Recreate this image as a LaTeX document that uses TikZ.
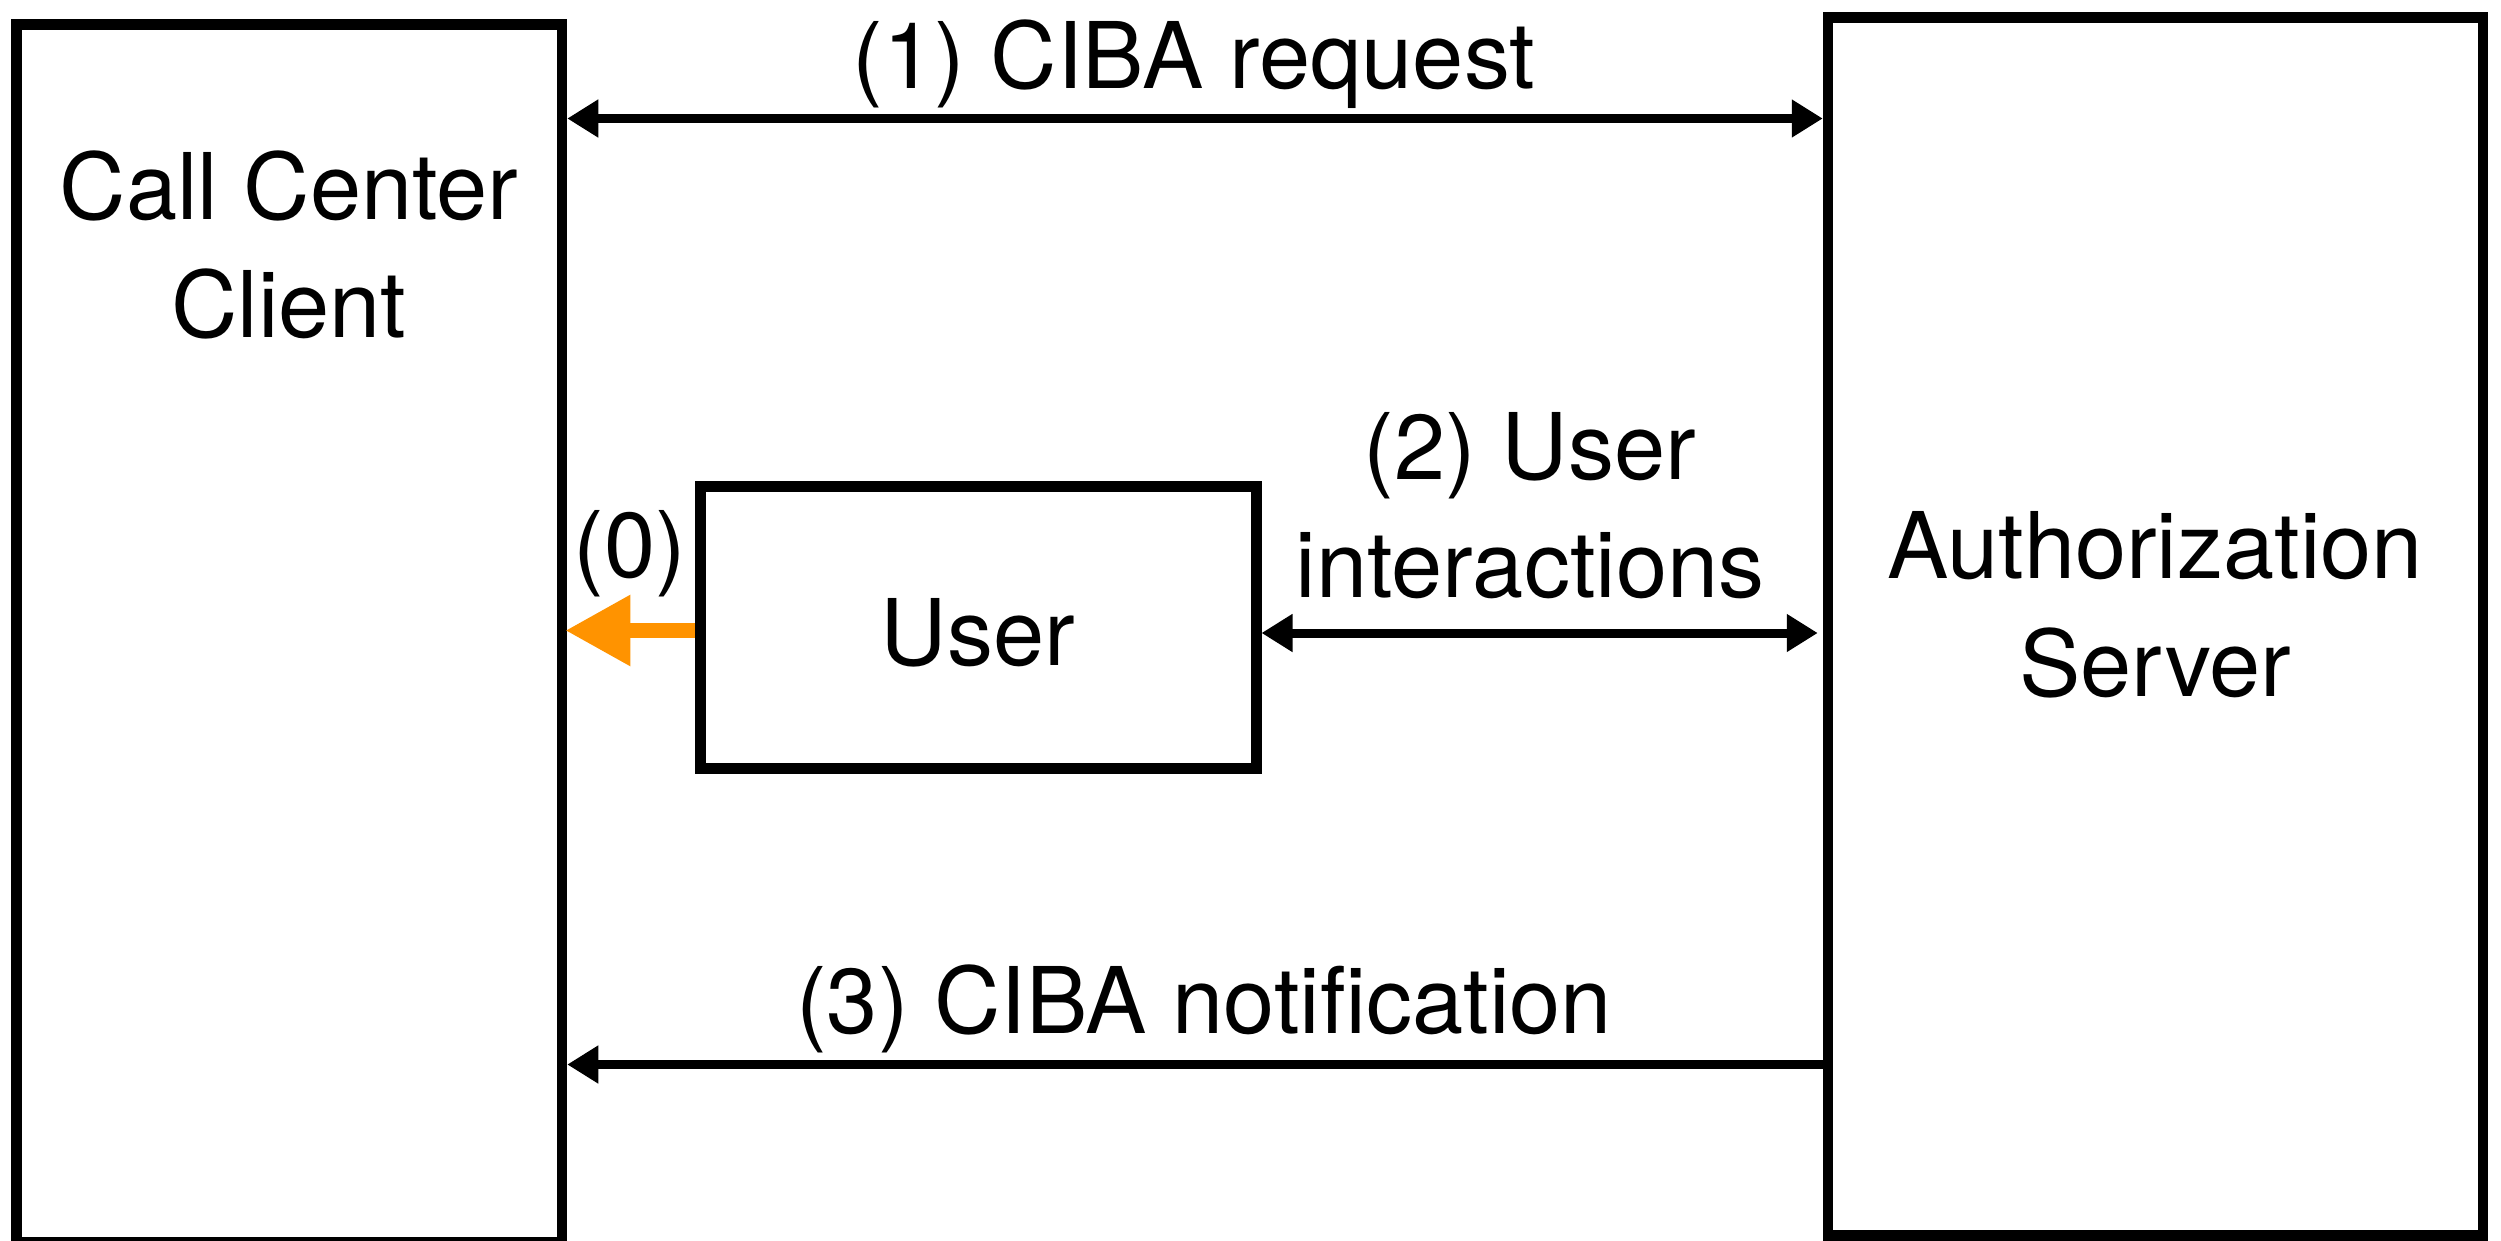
\documentclass[tikz,border=0pt]{standalone}
\usepackage{fontspec}
\setmainfont{TeX Gyre Heros}
\usetikzlibrary{arrows.meta}
\definecolor{applorange}{RGB}{255,147,0}
\begin{document}
\begin{tikzpicture}[x=1pt,y=-1pt,
  box/.style={draw, line width=10.5pt, inner sep=0pt, minimum width=#1},
  lbl/.style={font=\fontsize{92}{118}\selectfont, inner sep=0pt, anchor=base, align=center},
  link/.style={line width=9pt, -{Triangle[length=31pt,width=36pt]}},
  dlink/.style={line width=9pt, {Triangle[length=31pt,width=36pt]}-{Triangle[length=31pt,width=36pt]}},
  orangelink/.style={line width=15pt, draw=applorange, -{Triangle[length=65pt,width=67pt,fill=applorange]}}]
\useasboundingbox (0,0) rectangle (2501,1240);
\clip (0,0) rectangle (2501,1240);
% boxes
\node[box=545.5pt, minimum height=1217.5pt] (L) at (289.25,633.25) {};
\node[box=655pt, minimum height=1217.8pt] (R) at (2155.5,626.6) {};
\node[box=556pt, minimum height=282pt, line width=11pt] (U) at (978,627) {};
% box texts (base = baseline of the last line)
\node[lbl] (Lt) at (289,337) {Call Center\\Client};
\node[lbl] (Rt) at (2155,696) {Authorization\\Server};
\node[lbl] (Ut) at (978,665) {User};
% connector rows
\coordinate (y1) at (0,118.5);
\coordinate (y2) at (0,633);
\coordinate (y0) at (0,630.5);
\coordinate (y3) at (0,1064.5);
\draw[dlink] (L.east |- y1) -- (R.west |- y1);
\draw[dlink] (U.east |- y2) -- ([xshift=-5pt]R.west |- y2);
\draw[orangelink] (U.west |- y0) -- ([xshift=-2pt]L.east |- y0);
\draw[link] (R.west |- y3) -- (L.east |- y3);
% labels
\node[lbl] (t1) at (1194,88) {(1) CIBA request};
\node[lbl] (t2) at (1530,597) {(2) User\\interactions};
\node[lbl] (t0) at (630,577) {(0)};
\node[lbl] (t3) at (1204,1033) {(3) CIBA notification};
\end{tikzpicture}
\end{document}
